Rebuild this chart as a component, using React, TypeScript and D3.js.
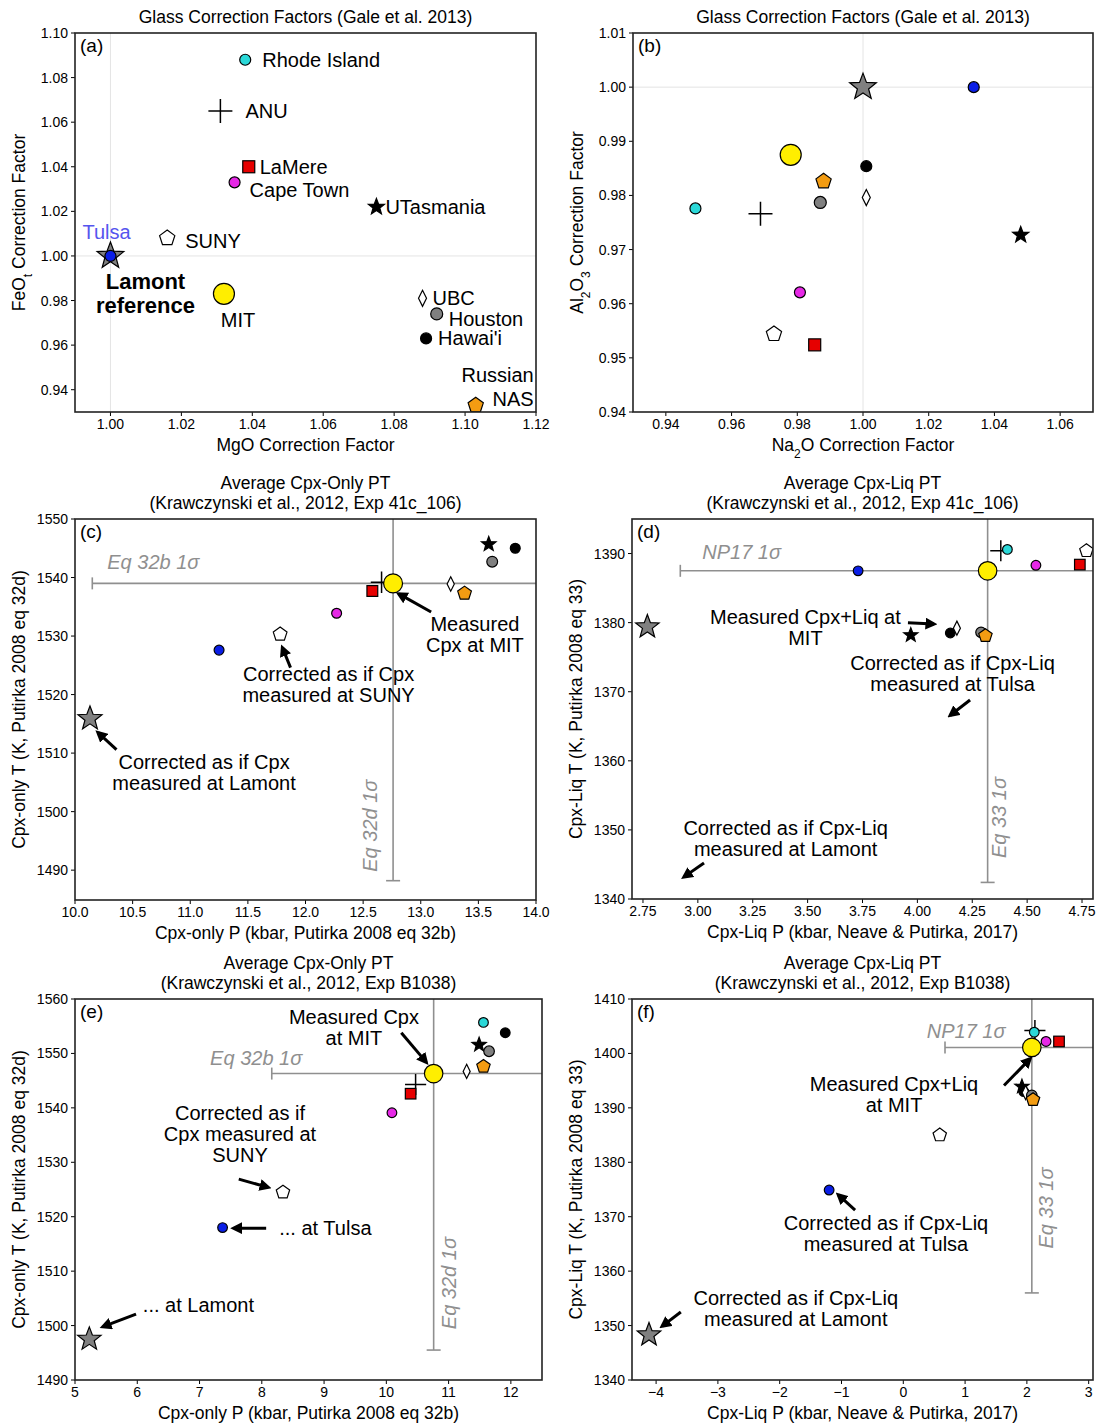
import React from "react";
import * as d3 from "d3";

// lab order used by every per-panel array below
const labs = ["Lamont", "Tulsa", "SUNY", "MIT", "Rhode Island", "ANU", "LaMere", "Cape Town", "UTasmania", "UBC", "Houston", "Hawai'i", "Russian NAS"];

// glass correction factors (Gale et al. 2013)
const mgoFactor = [1.0, 1.0, 1.016, 1.032, 1.038, 1.031, 1.039, 1.035, 1.075, 1.088, 1.092, 1.089, 1.103];
const feoFactor = [1.0, 1.0, 1.008, 0.983, 1.088, 1.065, 1.04, 1.033, 1.022, 0.981, 0.974, 0.963, 0.933];
const na2oFactor = [1.0, 1.0337, 0.9729, 0.978, 0.949, 0.9688, 0.9853, 0.9808, 1.048, 1.001, 0.987, 1.001, 0.988];
const al2o3Factor = [1.0, 1.0, 0.9544, 0.9875, 0.9776, 0.9766, 0.9524, 0.9621, 0.9727, 0.9796, 0.9787, 0.9854, 0.9826];

// Exp 41c_106
const cpxP41 = [10.13, 11.25, 11.78, 12.76, 13.74, 12.66, 12.58, 12.27, 13.59, 13.26, 13.62, 13.82, 13.38];
const cpxT41 = [1515.9, 1527.6, 1530.3, 1539.0, 1551.5, 1539.2, 1537.7, 1533.9, 1545.7, 1538.9, 1542.7, 1545.0, 1537.3];
const liqP41 = [2.77, 3.73, 4.77, 4.32, 4.41, 4.38, 4.74, 4.54, 3.97, 4.18, 4.29, 4.15, 4.31];
const liqT41 = [1379.4, 1387.5, 1390.4, 1387.5, 1390.6, 1390.4, 1388.4, 1388.3, 1378.2, 1379.2, 1378.6, 1378.5, 1378.1];

// Exp B1038
const cpxPB = [5.23, 7.37, 8.34, 10.76, 11.56, 10.47, 10.39, 10.09, 11.49, 11.29, 11.65, 11.91, 11.56];
const cpxTB = [1497.5, 1518.0, 1524.5, 1546.3, 1555.7, 1544.3, 1542.6, 1539.1, 1551.6, 1546.7, 1550.4, 1553.8, 1547.6];
const liqPB = [-4.115, -1.2, 0.59, 2.08, 2.12, 2.13, 2.52, 2.31, 1.92, 1.98, 2.08, 1.95, 2.1];
const liqTB = [1348.3, 1374.9, 1385.0, 1401.1, 1403.9, 1404.2, 1402.2, 1402.2, 1393.9, 1392.8, 1392.3, 1393.0, 1391.5];

type Mark = { shape: string; fill: string; r: number };
const marks: Mark[] = [
  { shape: "star", fill: "#808080", r: 14 },
  { shape: "circle", fill: "#0a1ee6", r: 5.5 },
  { shape: "pentagon", fill: "#ffffff", r: 8 },
  { shape: "circle", fill: "#ffee00", r: 10.5 },
  { shape: "circle", fill: "#2ad8d8", r: 5.5 },
  { shape: "plus", fill: "none", r: 12 },
  { shape: "square", fill: "#e60000", r: 6 },
  { shape: "circle", fill: "#e628e6", r: 5.5 },
  { shape: "smallstar", fill: "#000000", r: 8.5 },
  { shape: "diamond", fill: "#ffffff", r: 8 },
  { shape: "circle", fill: "#808080", r: 6 },
  { shape: "circle", fill: "#000000", r: 5.5 },
  { shape: "pentagon", fill: "#f39c12", r: 8 },
];
const drawOrder = [5, 0, 3, 1, 2, 4, 6, 7, 8, 11, 9, 10, 12];

function starPath(R: number) {
  const pts: string[] = [];
  for (let i = 0; i < 10; i++) {
    const rr = i % 2 === 0 ? R : R * 0.42;
    const a = -Math.PI / 2 + (i * Math.PI) / 5;
    pts.push(`${rr * Math.cos(a)},${rr * Math.sin(a)}`);
  }
  return "M" + pts.join("L") + "Z";
}
function pentPath(R: number) {
  const pts: string[] = [];
  for (let i = 0; i < 5; i++) {
    const a = -Math.PI / 2 + (i * 2 * Math.PI) / 5;
    pts.push(`${R * Math.cos(a)},${R * Math.sin(a)}`);
  }
  return "M" + pts.join("L") + "Z";
}

function Marker({ m, s, cx, cy }: { m: Mark; s: number; cx: number; cy: number }) {
  const r = m.r * s;
  const t = `translate(${cx},${cy})`;
  const st = { stroke: "#000", strokeWidth: 1.2 };
  switch (m.shape) {
    case "circle":
      return <circle cx={cx} cy={cy} r={r} fill={m.fill} {...st} />;
    case "star":
    case "smallstar":
      return <path transform={t} d={starPath(r)} fill={m.fill} {...st} />;
    case "pentagon":
      return <path transform={t} d={pentPath(r)} fill={m.fill} {...st} />;
    case "square":
      return <rect x={cx - r} y={cy - r} width={2 * r} height={2 * r} fill={m.fill} {...st} />;
    case "diamond":
      return <path transform={t} d={`M0,${-r}L${r * 0.5},0L0,${r}L${-r * 0.5},0Z`} fill={m.fill} {...st} />;
    default:
      return <path transform={t} d={`M${-r},0H${r}M0,${-r}V${r}`} stroke="#000" strokeWidth={1.5} fill="none" />;
  }
}

type Note = { lines: string[]; x: number; y: number; anchor?: string };
type Arrow = [number, number, number, number];
type Cfg = {
  id: string;
  tag: string;
  l: number; r: number; t: number; b: number;
  xd: [number, number]; yd: [number, number];
  xt: [number, number, number]; yt: [number, number, number];
  xf: (v: number) => string; yf: (v: number) => string;
  title: string[];
  xlabel: React.ReactNode; ylabel: React.ReactNode;
  px: number[]; py: number[];
  scale: number;
  refLines?: boolean;
  err?: { cx: number; cy: number; hx0: number; vy0: number; hlab: [number, number, string]; vlab: [number, number, string] };
  notes?: Note[];
  arrows?: Arrow[];
  pointLabels?: boolean;
};

// label offsets for panel (a): [dx, dy, anchor, lines]
const aLabels: [number, number, string, string[]][] = [
  [35, 26, "middle", ["Lamont", "reference"]],
  [-28, -24, "start", ["Tulsa"]],
  [18, 3, "start", ["SUNY"]],
  [14, 26, "middle", ["MIT"]],
  [17, 0, "start", ["Rhode Island"]],
  [25, 0, "start", ["ANU"]],
  [11, 0, "start", ["LaMere"]],
  [15, 8, "start", ["Cape Town"]],
  [9, 0, "start", ["UTasmania"]],
  [10, 0, "start", ["UBC"]],
  [12, 5, "start", ["Houston"]],
  [12, 0, "start", ["Hawai'i"]],
  [58, -30, "end", ["Russian", "NAS"]],
];

const f2 = d3.format(".2f");
const f1 = d3.format(".1f");
const fd = d3.format("d");
const sub = (s: string) => <tspan baselineShift="sub" fontSize="12">{s}</tspan>;

const panels: Cfg[] = [
  {
    id: "a", tag: "(a)", l: 75, r: 536, t: 33, b: 412, xd: [0.99, 1.12], yd: [0.93, 1.1],
    xt: [1.0, 1.12, 0.02], yt: [0.94, 1.1, 0.02], xf: f2, yf: f2,
    title: ["Glass Correction Factors (Gale et al. 2013)"],
    xlabel: "MgO Correction Factor",
    ylabel: <>FeO{sub("t")} Correction Factor</>,
    px: mgoFactor, py: feoFactor, scale: 1, refLines: true, pointLabels: true,
  },
  {
    id: "b", tag: "(b)", l: 633, r: 1093, t: 33, b: 412, xd: [0.93, 1.07], yd: [0.94, 1.01],
    xt: [0.94, 1.06, 0.02], yt: [0.94, 1.01, 0.01], xf: f2, yf: f2,
    title: ["Glass Correction Factors (Gale et al. 2013)"],
    xlabel: <>Na{sub("2")}O Correction Factor</>,
    ylabel: <>Al{sub("2")}O{sub("3")} Correction Factor</>,
    px: na2oFactor, py: al2o3Factor, scale: 1, refLines: true,
  },
  {
    id: "c", tag: "(c)", l: 75, r: 536, t: 519, b: 900, xd: [10, 14], yd: [1484.9, 1550],
    xt: [10, 14, 0.5], yt: [1490, 1550, 10], xf: f1, yf: fd,
    title: ["Average Cpx-Only PT", "(Krawczynski et al., 2012, Exp 41c_106)"],
    xlabel: "Cpx-only P (kbar, Putirka 2008 eq 32b)",
    ylabel: "Cpx-only T (K, Putirka 2008 eq 32d)",
    px: cpxP41, py: cpxT41, scale: 0.9,
    err: { cx: 12.76, cy: 1539.0, hx0: 10.15, vy0: 1488.2, hlab: [10.28, 1542.7, "Eq 32b 1σ"], vlab: [12.56, 1497.6, "Eq 32d 1σ"] },
    notes: [
      { lines: ["Measured", "Cpx at MIT"], x: 13.47, y: 1532.1 },
      { lines: ["Corrected as if Cpx", "measured at SUNY"], x: 12.2, y: 1523.5 },
      { lines: ["Corrected as if Cpx", "measured at Lamont"], x: 11.12, y: 1508.4 },
    ],
    arrows: [[13.09, 1534.1, 12.81, 1537.2], [11.87, 1524.6, 11.8, 1528.0], [10.36, 1510.6, 10.2, 1513.5]],
  },
  {
    id: "d", tag: "(d)", l: 632, r: 1093, t: 519, b: 899, xd: [2.7, 4.8], yd: [1340, 1395],
    xt: [2.75, 4.75, 0.25], yt: [1340, 1390, 10], xf: f2, yf: fd,
    title: ["Average Cpx-Liq PT", "(Krawczynski et al., 2012, Exp 41c_106)"],
    xlabel: "Cpx-Liq P (kbar, Neave & Putirka, 2017)",
    ylabel: "Cpx-Liq T (K, Putirka 2008 eq 33)",
    px: liqP41, py: liqT41, scale: 0.88,
    err: { cx: 4.32, cy: 1387.5, hx0: 2.92, vy0: 1342.4, hlab: [3.02, 1390.2, "NP17 1σ"], vlab: [4.37, 1351.8, "Eq 33 1σ"] },
    notes: [
      { lines: ["Measured Cpx+Liq at", "MIT"], x: 3.49, y: 1380.8 },
      { lines: ["Corrected as if Cpx-Liq", "measured at Tulsa"], x: 4.16, y: 1374.2 },
      { lines: ["Corrected as if Cpx-Liq", "measured at Lamont"], x: 3.4, y: 1350.3 },
    ],
    arrows: [[3.957, 1380.0, 4.075, 1379.8], [4.24, 1368.8, 4.15, 1366.6], [3.028, 1345.2, 2.937, 1343.2]],
  },
  {
    id: "e", tag: "(e)", l: 75, r: 542, t: 999, b: 1380, xd: [5, 12.5], yd: [1490, 1560],
    xt: [5, 12, 1], yt: [1490, 1560, 10], xf: fd, yf: fd,
    title: ["Average Cpx-Only PT", "(Krawczynski et al., 2012, Exp B1038)"],
    xlabel: "Cpx-only P (kbar, Putirka 2008 eq 32b)",
    ylabel: "Cpx-only T (K, Putirka 2008 eq 32d)",
    px: cpxPB, py: cpxTB, scale: 0.88,
    err: { cx: 10.76, cy: 1546.3, hx0: 8.16, vy0: 1495.5, hlab: [7.17, 1549.2, "Eq 32b 1σ"], vlab: [11.0, 1507.8, "Eq 32d 1σ"] },
    notes: [
      { lines: ["Measured Cpx", "at MIT"], x: 9.48, y: 1556.7 },
      { lines: ["Corrected as if", "Cpx measured at", "SUNY"], x: 7.65, y: 1539.1 },
      { lines: ["... at Tulsa"], x: 8.28, y: 1518.0, anchor: "start" },
      { lines: ["... at Lamont"], x: 6.09, y: 1503.8, anchor: "start" },
    ],
    arrows: [[10.24, 1553.8, 10.64, 1548.4], [7.63, 1526.9, 8.1, 1525.4], [8.07, 1517.9, 7.55, 1517.9], [5.98, 1502.1, 5.45, 1499.8]],
  },
  {
    id: "f", tag: "(f)", l: 632, r: 1093, t: 999, b: 1380, xd: [-4.39, 3.07], yd: [1340, 1410],
    xt: [-4, 3, 1], yt: [1340, 1410, 10], xf: fd, yf: fd,
    title: ["Average Cpx-Liq PT", "(Krawczynski et al., 2012, Exp B1038)"],
    xlabel: "Cpx-Liq P (kbar, Neave & Putirka, 2017)",
    ylabel: "Cpx-Liq T (K, Putirka 2008 eq 33)",
    px: liqPB, py: liqTB, scale: 0.88,
    err: { cx: 2.08, cy: 1401.1, hx0: 0.675, vy0: 1356.0, hlab: [0.38, 1404.1, "NP17 1σ"], vlab: [2.31, 1371.6, "Eq 33 1σ"] },
    notes: [
      { lines: ["Measured Cpx+Liq", "at MIT"], x: -0.15, y: 1394.3 },
      { lines: ["Corrected as if Cpx-Liq", "measured at Tulsa"], x: -0.28, y: 1368.8 },
      { lines: ["Corrected as if Cpx-Liq", "measured at Lamont"], x: -1.74, y: 1355.1 },
    ],
    arrows: [[1.63, 1394.1, 2.05, 1399.0], [-0.78, 1371.2, -1.05, 1374.0], [-3.6, 1352.5, -3.9, 1349.9]],
  },
];

const FONT = "'Liberation Sans', Arial, Helvetica, sans-serif";
const GRAY = "#8f8f8f";

function Panel({ c }: { c: Cfg }) {
  const x = d3.scaleLinear().domain(c.xd).range([c.l, c.r]);
  const y = d3.scaleLinear().domain(c.yd).range([c.b, c.t]);
  const xticks = d3.range(c.xt[0], c.xt[1] + c.xt[2] / 2, c.xt[2]);
  const yticks = d3.range(c.yt[0], c.yt[1] + c.yt[2] / 2, c.yt[2]);
  const cxm = (c.l + c.r) / 2;
  const cym = (c.t + c.b) / 2;
  const clip = `clip-${c.id}`;
  return (
    <g fontFamily={FONT}>
      <defs>
        <clipPath id={clip}>
          <rect x={c.l} y={c.t} width={c.r - c.l} height={c.b - c.t} />
        </clipPath>
      </defs>
      {c.title.map((s, i) => (
        <text key={i} x={cxm} y={c.t - 10 - (c.title.length - 1 - i) * 20} textAnchor="middle" fontSize={17.5}>{s}</text>
      ))}
      {xticks.map((v) => (
        <g key={"x" + v}>
          <line x1={x(v)} x2={x(v)} y1={c.b} y2={c.b + 4} stroke="#000" />
          <text x={x(v)} y={c.b + 17} textAnchor="middle" fontSize={14}>{c.xf(v)}</text>
        </g>
      ))}
      {yticks.map((v) => (
        <g key={"y" + v}>
          <line x1={c.l - 4} x2={c.l} y1={y(v)} y2={y(v)} stroke="#000" />
          <text x={c.l - 7} y={y(v) + 5} textAnchor="end" fontSize={14}>{c.yf(v)}</text>
        </g>
      ))}
      <text x={cxm} y={c.b + 39} textAnchor="middle" fontSize={17.5}>{c.xlabel}</text>
      <text transform={`translate(${c.l - 50},${cym}) rotate(-90)`} textAnchor="middle" fontSize={17.5}>{c.ylabel}</text>
      <g clipPath={`url(#${clip})`}>
        {c.refLines && (
          <g stroke="#e4e4e4" strokeWidth={1}>
            <line x1={x(1)} x2={x(1)} y1={c.t} y2={c.b} />
            <line x1={c.l} x2={c.r} y1={y(1)} y2={y(1)} />
          </g>
        )}
        {c.err && (
          <g stroke={GRAY} strokeWidth={1.6}>
            <line x1={x(c.err.hx0)} x2={c.r + 10} y1={y(c.err.cy)} y2={y(c.err.cy)} />
            <line x1={x(c.err.hx0)} x2={x(c.err.hx0)} y1={y(c.err.cy) - 6} y2={y(c.err.cy) + 6} />
            <line x1={x(c.err.cx)} x2={x(c.err.cx)} y1={y(c.err.vy0)} y2={c.t - 10} />
            <line x1={x(c.err.cx) - 7} x2={x(c.err.cx) + 7} y1={y(c.err.vy0)} y2={y(c.err.vy0)} />
          </g>
        )}
        {drawOrder.map((i) => (
          <Marker key={i} m={marks[i]} s={c.scale} cx={x(c.px[i])} cy={y(c.py[i])} />
        ))}
      </g>
      {c.err && (
        <g fill={GRAY} fontStyle="italic" fontSize={20}>
          <text x={x(c.err.hlab[0])} y={y(c.err.hlab[1]) + 7}>{c.err.hlab[2]}</text>
          <text transform={`translate(${x(c.err.vlab[0]) + 7},${y(c.err.vlab[1])}) rotate(-90)`} textAnchor="middle">{c.err.vlab[2]}</text>
        </g>
      )}
      {c.pointLabels &&
        aLabels.map(([dx, dy, anchor, lines], i) => (
          <text key={i} x={x(c.px[i]) + dx} y={y(c.py[i]) + dy + 7} textAnchor={anchor}
            fontSize={i === 0 ? 22 : 20} fontWeight={i === 0 ? "bold" : "normal"} fill={i === 1 ? "#5555ee" : "#000"}>
            {lines.map((s, k) => (
              <tspan key={k} x={x(c.px[i]) + dx} dy={k === 0 ? 0 : 24}>{s}</tspan>
            ))}
          </text>
        ))}
      {c.notes?.map((n, i) => (
        <text key={i} x={x(n.x)} y={y(n.y) + 7} textAnchor={n.anchor || "middle"} fontSize={20}>
          {n.lines.map((s, k) => (
            <tspan key={k} x={x(n.x)} dy={k === 0 ? 0 : 21}>{s}</tspan>
          ))}
        </text>
      ))}
      {c.arrows?.map((a, i) => (
        <line key={i} x1={x(a[0])} y1={y(a[1])} x2={x(a[2])} y2={y(a[3])} stroke="#000" strokeWidth={3} markerEnd="url(#arrowhead)" />
      ))}
      <rect x={c.l} y={c.t} width={c.r - c.l} height={c.b - c.t} fill="none" stroke="#222" strokeWidth={1.6} />
      <text x={c.l + 5} y={c.t + 19} fontSize={19}>{c.tag}</text>
    </g>
  );
}

export default function App() {
  return (
    <svg width={1097} height={1424} style={{ position: "absolute", left: 0, top: 0, background: "#fff" }}>
      <defs>
        <marker id="arrowhead" viewBox="0 0 10 10" refX="7" refY="5" markerWidth="4" markerHeight="4" orient="auto">
          <path d="M0,0L10,5L0,10Z" fill="#000" />
        </marker>
      </defs>
      <rect width={1097} height={1424} fill="#fff" />
      {panels.map((p) => (
        <Panel key={p.id} c={p} />
      ))}
    </svg>
  );
}
